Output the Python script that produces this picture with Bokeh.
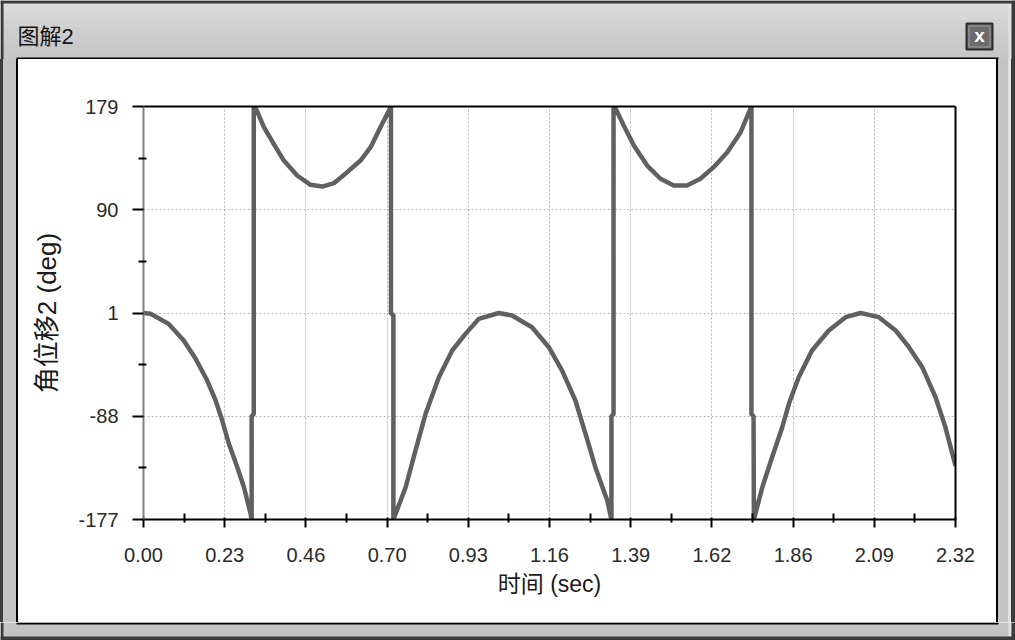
from bokeh.plotting import figure
from bokeh.layouts import column, row
from bokeh.models import Range1d, FixedTicker, PrintfTickFormatter, LinearAxis
from bokeh.core.properties import value
from bokeh.embed import file_html
from bokeh.resources import INLINE

# ---------------- data ----------------
time_s = [
    0.000, 0.020, 0.072, 0.115, 0.149, 0.182, 0.206, 0.225, 0.244, 0.268, 0.287, 0.306, 0.309,
    0.309, 0.315, 0.315,
    0.320, 0.344, 0.372, 0.401, 0.439, 0.477, 0.511, 0.544, 0.582, 0.620, 0.649, 0.677, 0.704, 0.707,
    0.707, 0.714, 0.714,
    0.749, 0.777, 0.806, 0.844, 0.882, 0.920, 0.958, 1.015, 1.053, 1.110, 1.158, 1.196, 1.234,
    1.263, 1.291, 1.325, 1.337,
    1.337, 1.343, 1.343,
    1.349, 1.372, 1.401, 1.439, 1.477, 1.515, 1.553, 1.591, 1.629, 1.668, 1.706, 1.734, 1.737,
    1.737, 1.743, 1.744,
    1.768, 1.796, 1.825, 1.844, 1.872, 1.910, 1.958, 2.006, 2.049, 2.101, 2.149, 2.187, 2.225,
    2.263, 2.291, 2.320,
]
angle_deg = [
    1, 0.3, -8.4, -22.7, -38.5, -57.2, -74.4, -91.7, -111.8, -131.9, -149.2, -172.1, -177,
    -88, -86, 179,
    178, 161.2, 146.8, 132.4, 119.5, 111.5, 110, 112.9, 122.4, 132.4, 143.9, 161.2, 177, 179,
    1, -1, -177,
    -149.2, -117.6, -85.9, -54.4, -31.3, -17, -4, 1, -1.2, -11.3, -28.5, -48.6, -74.4,
    -103.2, -131.9, -160.7, -177,
    -88, -86, 179,
    177, 162.6, 145.4, 128.1, 116.7, 110.9, 110.9, 116.7, 126.7, 139.6, 156.8, 177, 179,
    -86, -88, -177,
    -149.2, -123.3, -97.4, -77.3, -54.4, -31.3, -14.1, -2.6, 1, -2.6, -14.1, -28.5, -45.7,
    -71.6, -97.4, -130.5,
]

x_ticks = [0.0, 0.232, 0.464, 0.696, 0.928, 1.16, 1.392, 1.624, 1.856, 2.088, 2.32]
x_tick_labels = ["0.00", "0.23", "0.46", "0.70", "0.93", "1.16", "1.39", "1.62", "1.86", "2.09", "2.32"]
x_minor_ticks = [0.116, 0.348, 0.58, 0.812, 1.044, 1.276, 1.508, 1.74, 1.972, 2.204]
y_ticks = [-177, -88, 1, 90, 179]
y_tick_labels = ["-177", "-88", "1", "90", "179"]
y_minor_ticks = [-132.5, -43.5, 45.5, 134.5]

window_title = "图解2"
x_label = "时间 (sec)"
y_label = "角位移2 (deg)"

FONT = "Liberation Sans"
MIX_FONT = "Liberation Sans, Noto Sans CJK SC"

DARK = "#3b3b3b"
GRAY = "#c4c4c4"
LIGHT = "#e2e2e2"

# ---------------- decoration figures (window chrome) ----------------
def deco(w, h, bg=GRAY):
    return figure(width=w, height=h, output_backend="svg", toolbar_location=None,
                  x_range=Range1d(0, w), y_range=Range1d(h, 0),
                  x_axis_type=None, y_axis_type=None, min_border=0,
                  background_fill_color=bg, border_fill_color=bg,
                  outline_line_color=None)

def rect(f, x0, y0, x1, y1, color):
    f.quad(left=[x0], right=[x1], top=[y0], bottom=[y1], fill_color=color, line_color=None)

# title bar (page y 0..59)
top = deco(1015, 59)
bands = ["#dadada", "#d6d6d6", "#d2d2d2", "#cecece", "#cbcbcb", "#c8c8c8", "#c6c6c6"]
bh = (59 - 3) / len(bands)
for i, c in enumerate(bands):
    rect(top, 3, 3 + i * bh, 1011, 3 + (i + 1) * bh + 0.6, c)
rect(top, 3, 3, 1011, 4, LIGHT)
rect(top, 1008, 4, 1011, 59, LIGHT)
rect(top, 0, 0, 1015, 3, DARK)
rect(top, 0, 0, 3, 59, DARK)
rect(top, 1011, 0, 1015, 59, DARK)
rect(top, 16, 57, 998, 59, "black")
top.text(x=[17], y=[36], text=[window_title], text_font=value(MIX_FONT),
         text_font_size="22px", text_align="left", text_baseline="middle",
         text_color="#151515")
# close button
top.quad(left=[966], right=[992], top=[23], bottom=[49], fill_color="#6c6c6c",
         line_color="#2a2a2a", line_width=2)
top.quad(left=[968.5], right=[989.5], top=[25.5], bottom=[46.5], fill_color=None,
         line_color="#9c9c9c", line_width=1)
top.text(x=[979], y=[35], text=["x"], text_font=value(FONT), text_font_style="bold",
         text_font_size="19px", text_align="center", text_baseline="middle",
         text_color="white")

# bottom strip (page y 622..640)
bottom = deco(1015, 18)
rect(bottom, 16, 0, 998, 2, "black")
rect(bottom, 0, 0, 3, 18, DARK)
rect(bottom, 1008, 0, 1011, 14, LIGHT)
rect(bottom, 1011, 0, 1015, 18, DARK)
rect(bottom, 0, 14, 1015, 18, DARK)

# ---------------- main chart (page y 59..622, full width) ----------------
side_css = {
    "background-color": GRAY,
    "background-image": ", ".join(["linear-gradient(#ffffff,#ffffff)",
                                   "linear-gradient(#000000,#000000)",
                                   f"linear-gradient({DARK},{DARK})",
                                   f"linear-gradient({LIGHT},{LIGHT})",
                                   f"linear-gradient({DARK},{DARK})"]),
    "background-size": "978px 100%, 982px 100%, 4px 100%, 3px 100%, 3px 100%",
    "background-position": "18px 0px, 16px 0px, 1011px 0px, 1008px 0px, 0px 0px",
    "background-repeat": "no-repeat",
}

p = figure(width=1015, height=563, output_backend="svg", toolbar_location=None,
           x_range=Range1d(0, 2.32), y_range=Range1d(-177, 179),
           min_border_left=143, min_border_right=60,
           min_border_top=47, min_border_bottom=103,
           background_fill_color="white", border_fill_color=None,
           outline_line_color=None, styles=side_css)

xt = FixedTicker(ticks=x_ticks, minor_ticks=x_minor_ticks)
yt = FixedTicker(ticks=y_ticks, minor_ticks=y_minor_ticks)

xa = p.xaxis[0]
xa.ticker = xt
xa.formatter = PrintfTickFormatter(format="%.2f")
xa.major_label_overrides = dict(zip(x_ticks, x_tick_labels))
xa.axis_line_color = "black"
xa.axis_line_width = 2
xa.major_tick_line_color = "black"
xa.major_tick_line_width = 2
xa.major_tick_out = 8
xa.major_tick_in = 2
xa.minor_tick_line_color = "black"
xa.minor_tick_line_width = 2
xa.minor_tick_out = 3
xa.minor_tick_in = 6
xa.major_label_text_font = FONT
xa.major_label_text_font_size = "20px"
xa.major_label_text_color = "#2a2a2a"
xa.major_label_standoff = 20
xa.axis_label = x_label
xa.axis_label_text_font = MIX_FONT
xa.axis_label_text_font_size = "23px"
xa.axis_label_text_font_style = "normal"
xa.axis_label_text_color = "#1a1a1a"
xa.axis_label_standoff = 6

ya = p.yaxis[0]
ya.ticker = yt
ya.formatter = PrintfTickFormatter(format="%d")
ya.major_label_overrides = dict(zip(y_ticks, y_tick_labels))
ya.axis_line_color = "#808080"
ya.axis_line_width = 2
ya.major_tick_line_color = "black"
ya.major_tick_line_width = 2
ya.major_tick_out = 11
ya.major_tick_in = 0
ya.minor_tick_line_color = "black"
ya.minor_tick_line_width = 2
ya.minor_tick_out = 5
ya.minor_tick_in = 3
ya.major_label_text_font = FONT
ya.major_label_text_font_size = "20px"
ya.major_label_text_color = "#2a2a2a"
ya.major_label_standoff = 14
ya.axis_label = y_label
ya.axis_label_text_font = MIX_FONT
ya.axis_label_text_font_size = "26px"
ya.axis_label_text_font_style = "normal"
ya.axis_label_text_color = "#1a1a1a"
ya.axis_label_standoff = 13

# plain black border lines on top and right of the plot area
for side in ("above", "right"):
    ax = LinearAxis(ticker=FixedTicker(ticks=[]), axis_line_color="black", axis_line_width=2,
                    major_tick_line_color=None, minor_tick_line_color=None,
                    major_label_text_font_size="0px")
    p.add_layout(ax, side)

for g, t in ((p.xgrid[0], xt), (p.ygrid[0], yt)):
    g.ticker = t
    g.grid_line_color = "#b4b4b4"
    g.grid_line_width = 1
    g.grid_line_dash = "2 2"

p.line(time_s, angle_deg, line_color="#606060", line_width=4.5, line_join="round")

layout = column(top, row(p), bottom)
open("out.html", "w").write(file_html(layout, INLINE))
